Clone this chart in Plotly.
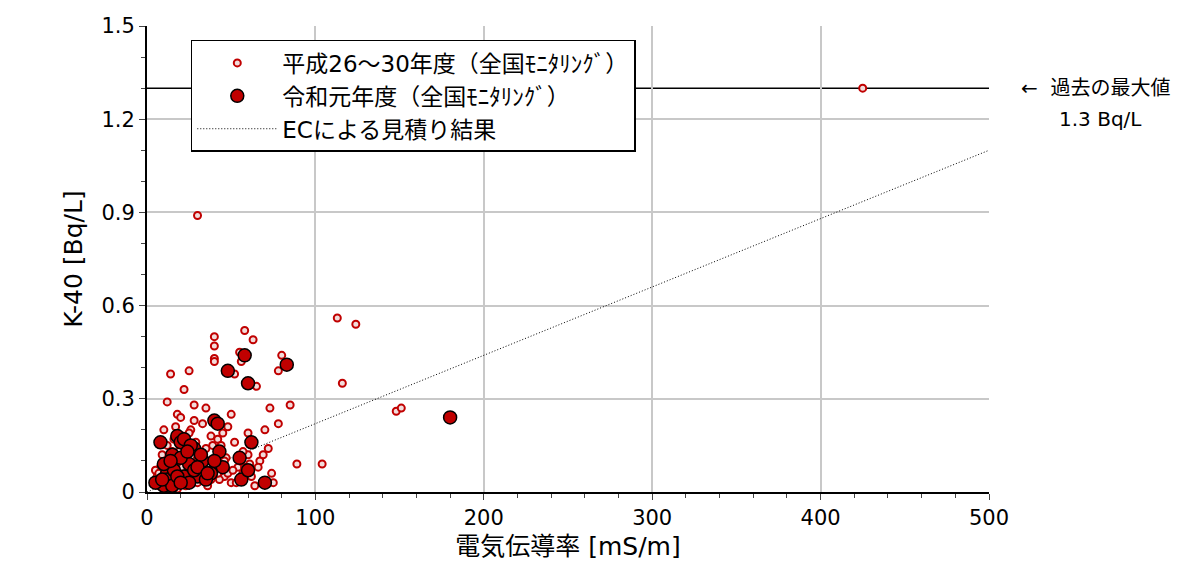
import plotly.graph_objects as go

# H26-30 national monitoring (open markers)
past_x = [425, 30, 113, 124, 116, 148, 151, 89, 104, 40, 40, 40, 40, 58, 63, 55, 56, 52, 80, 78,
          85, 73, 78, 14, 25, 22, 18, 12, 35, 28, 65, 70, 67, 72, 74, 75, 45, 50, 48, 38,
          10, 12, 15, 17, 19, 21, 23, 26, 29, 31, 33, 36, 39, 42, 44, 47, 52, 54, 57, 60,
          8, 9, 11, 13, 16, 20, 24, 27, 30, 34, 37, 41, 46, 50, 55, 62, 66, 69, 6, 7,
          14, 18, 22, 26, 32, 36, 43, 48, 53, 58, 64, 20, 25, 30, 35, 10, 16, 28, 44, 60,
          5, 9, 13, 17, 21, 24, 27, 31, 34, 38, 42, 46, 51, 57, 61, 7, 12, 19, 23, 29]
past_y = [1.30, 0.89, 0.56, 0.54, 0.35, 0.26, 0.27, 0.09, 0.09, 0.50, 0.47, 0.43, 0.42, 0.52, 0.49, 0.45, 0.42, 0.38, 0.44, 0.39,
          0.28, 0.27, 0.22, 0.38, 0.39, 0.33, 0.25, 0.29, 0.27, 0.28, 0.34, 0.20, 0.10, 0.14, 0.06, 0.03, 0.19, 0.25, 0.21, 0.18,
          0.20, 0.15, 0.13, 0.21, 0.10, 0.18, 0.14, 0.20, 0.16, 0.12, 0.22, 0.09, 0.15, 0.17, 0.13, 0.11, 0.16, 0.08, 0.06, 0.12,
          0.08, 0.12, 0.05, 0.10, 0.06, 0.04, 0.07, 0.09, 0.03, 0.07, 0.05, 0.08, 0.05, 0.03, 0.10, 0.05, 0.08, 0.12, 0.05, 0.02,
          0.02, 0.01, 0.03, 0.05, 0.04, 0.02, 0.04, 0.06, 0.03, 0.08, 0.02, 0.24, 0.19, 0.11, 0.14, 0.09, 0.17, 0.23, 0.15, 0.19,
          0.07, 0.03, 0.09, 0.04, 0.08, 0.12, 0.05, 0.07, 0.11, 0.04, 0.06, 0.10, 0.07, 0.13, 0.09, 0.06, 0.10, 0.13, 0.02, 0.06]

# R1 national monitoring (filled markers)
r1_x = [8, 10, 12, 15, 18, 20, 22, 25, 28, 30, 33, 38, 40, 42, 43, 45, 48, 58, 60, 62,
        55, 56, 60, 70, 83, 180, 5, 12, 16, 20, 22, 25, 35, 40, 15, 28, 32, 10, 18, 26,
        14, 24, 30, 36, 20, 9]
r1_y = [0.16, 0.02, 0.06, 0.12, 0.18, 0.16, 0.17, 0.09, 0.14, 0.05, 0.10, 0.06, 0.23, 0.22, 0.13, 0.08, 0.39, 0.44, 0.35, 0.16,
        0.11, 0.04, 0.07, 0.03, 0.41, 0.24, 0.03, 0.04, 0.07, 0.11, 0.05, 0.03, 0.04, 0.10, 0.02, 0.07, 0.12, 0.09, 0.05, 0.15,
        0.10, 0.13, 0.08, 0.06, 0.03, 0.04]

ec_x = [0, 500]
ec_y = [0, 1.1]
max_past = 1.3

font = "DejaVu Sans, Noto Sans CJK JP"
fig = go.Figure()
fig.add_hline(y=max_past, line_color="black", line_width=1.5, layer="below")
fig.add_trace(go.Scatter(x=ec_x, y=ec_y, mode="lines", name="ECによる見積り結果", legendrank=3,
                         line=dict(color="black", width=1, dash="1px,2px")))
fig.add_trace(go.Scatter(x=past_x, y=past_y, mode="markers", name="平成26～30年度（全国ﾓﾆﾀﾘﾝｸﾞ）",
                         legendrank=1,
                         marker=dict(size=7, color="#f2dcdb", line=dict(color="#c00000", width=2))))
fig.add_trace(go.Scatter(x=r1_x, y=r1_y, mode="markers", name="令和元年度（全国ﾓﾆﾀﾘﾝｸﾞ）",
                         legendrank=2,
                         marker=dict(size=13, color="#c00000", line=dict(color="black", width=1.5))))

fig.add_annotation(x=1, xref="paper", xshift=30, y=max_past, text="←  過去の最大値",
                   showarrow=False, xanchor="left", font=dict(size=20, family=font, color="black"))
fig.add_annotation(x=1, xref="paper", xshift=68, y=1.2, text="1.3 Bq/L",
                   showarrow=False, xanchor="left", font=dict(size=20, family=font, color="black"))

fig.update_layout(
    width=1196, height=583, plot_bgcolor="white", paper_bgcolor="white",
    margin=dict(l=139, r=215, t=18, b=99, autoexpand=False),
    font=dict(family=font, size=21, color="black"),
    legend=dict(x=0.052, y=0.97, xanchor="left", yanchor="top", bgcolor="white",
                bordercolor="black", borderwidth=1.5, tracegroupgap=10,
                font=dict(size=23), itemwidth=80),
    xaxis=dict(range=[0, 500], dtick=100, showgrid=True, gridcolor="#c8c8c8", gridwidth=1.5,
               showline=True, linecolor="black", linewidth=2, ticks="outside", ticklen=6,
               minor=dict(dtick=20, ticks="outside", ticklen=4, showgrid=False),
               zeroline=False, automargin=False, title=dict(text="電気伝導率 [mS/m]", standoff=8)),
    yaxis=dict(range=[0, 1.5], dtick=0.3, showgrid=True, gridcolor="#c8c8c8", gridwidth=1.5,
               showline=True, linecolor="black", linewidth=2, ticks="outside", ticklen=6,
               minor=dict(dtick=0.1, ticks="outside", ticklen=4, showgrid=False),
               zeroline=False, automargin=False, tickformat="~g",
               title=dict(text="K-40 [Bq/L]", standoff=12)),
)
fig.write_html("out.html")
